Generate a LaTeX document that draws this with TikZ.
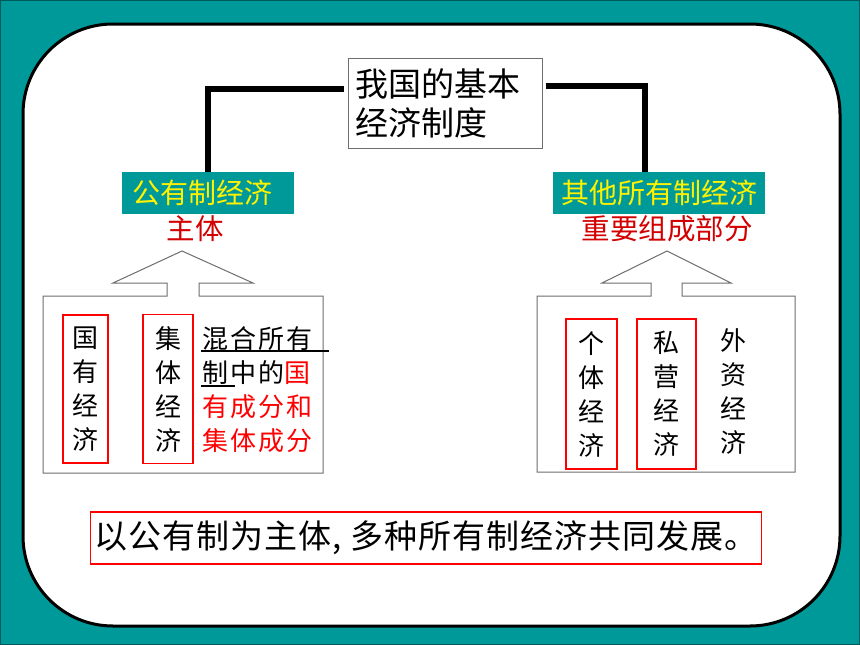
\documentclass[tikz,border=0pt]{standalone}
\usepackage{fontspec}
\newfontfamily\cjk{Noto Sans CJK SC}
\newfontfamily\cjkwide[LetterSpace=8]{Noto Sans CJK SC}
\newfontfamily\cjkline[LetterSpace=3]{Noto Sans CJK SC}
\usetikzlibrary{positioning}
\definecolor{slideteal}{RGB}{0,153,153}
\definecolor{darkteal}{RGB}{0,90,90}
\definecolor{rolered}{RGB}{210,0,0}
\definecolor{outlinegray}{RGB}{110,110,110}
\tikzset{
  link/.style={line width=6pt},
  tag/.style={fill=slideteal, text=yellow, inner sep=0pt, minimum height=42pt,
    font=\cjk\fontsize{28}{30}\selectfont},
  role/.style={text=rolered, inner sep=0pt, font=\cjk\fontsize{28.5}{30}\selectfont},
  column/.style={inner sep=0pt, align=center, font=\cjk\fontsize{26}{34}\selectfont},
  redbox/.style={column, draw=red, line width=1.6pt},
  upbox/.style={draw=outlinegray, line width=1pt, line join=miter}
}
\begin{document}
\begin{tikzpicture}[x=1pt, y=-1pt]
  \useasboundingbox (0,0) rectangle (860,645);
  % slide background
  \fill[slideteal, draw=darkteal, line width=1pt] (0.5,0.5) rectangle (859.5,644.5);
  \draw[fill=white, line width=3pt, rounded corners=90pt] (23,24) rectangle (840,626);

  % top of the tree
  \node[draw=outlinegray, line width=1pt, inner sep=0pt, minimum width=194pt, minimum height=90pt,
        align=left, text width=180pt, font=\cjk\fontsize{33}{39}\selectfont] (basic) at (445,103)
        {我国的基本\\经济制度};
  \node[tag, minimum width=172pt] (public) at (208,193) {公有制经济\hspace*{12pt}};
  \node[tag, minimum width=212pt] (other) at (659,193) {其他所有制经济};
  \draw[link] ([xshift=-4pt, yshift=14pt]basic.west) -| (public.north);
  \draw[link] ([xshift=3pt, yshift=17pt]basic.east) -| ([xshift=-14pt]other.north);

  \node[role] (main) at (195,229) {主体};
  \node[role] (part) at (667,229) {重要组成部分};

  % left block with arrow
  \draw[upbox] (43,296) -- (167,296) -- (167,283) -- (113,283) -- (182,251) -- (253,283)
    -- (199,283) -- (199,296) -- (323,296) -- (323,473) -- (43,473) -- cycle;
  \node[redbox, minimum width=45pt, minimum height=148pt] (state) at (85.5,389) {国\\有\\经\\济};
  \node[redbox, minimum width=50pt, minimum height=149pt] (collective) at (168,389) {集\\体\\经\\济};
  \node[column, anchor=west, align=left, font=\cjkwide\fontsize{26}{34}\selectfont] (mixed) at (202,390)
    {混合所有\\制中的\textcolor{red}{国}\\\textcolor{red}{有成分和}\\\textcolor{red}{集体成分}};
  \draw[line width=2pt] (201,351) -- (329,351);
  \draw[line width=2pt] (201,386) -- (235,386);

  % right block with arrow
  \draw[upbox] (537,296) -- (651,296) -- (651,283) -- (602,283) -- (667,251) -- (731,283)
    -- (682,283) -- (682,296) -- (795,296) -- (795,472) -- (537,472) -- cycle;
  \node[redbox, minimum width=51pt, minimum height=150pt] (individual) at (591.5,394) {个\\体\\经\\济};
  \node[redbox, minimum width=59pt, minimum height=150pt] (private) at (666.5,394) {私\\营\\经\\济};
  \node[column] (foreign) at (733,391) {外\\资\\经\\济};

  % summary
  \node[draw=red, line width=1.6pt, minimum width=671pt, minimum height=52pt, inner sep=0pt,
        font=\cjkline\fontsize{33}{36}\selectfont] (summary) at (426,538)
        {以公有制为主体, 多种所有制经济共同发展。};
\end{tikzpicture}
\end{document}
